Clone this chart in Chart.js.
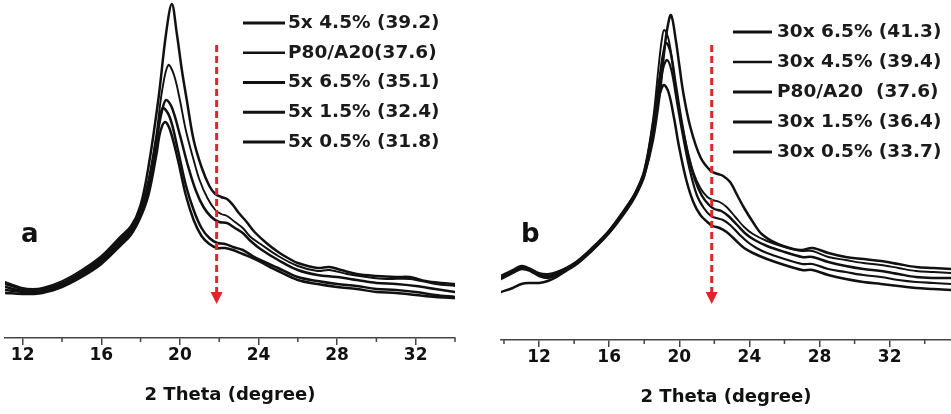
<!DOCTYPE html>
<html><head><meta charset="utf-8">
<script src="https://cdn.jsdelivr.net/npm/chart.js@4.4.1/dist/chart.umd.min.js"></script>
<style>
html,body{margin:0;padding:0;background:#fff;}
#wrap{position:relative;width:951px;height:414px;overflow:hidden;background:#fff;}
canvas{position:absolute;top:0;}
#ca{left:0}
#cb{left:476px}
</style></head><body>
<div id="wrap"><canvas id="ca" width="475" height="414"></canvas><canvas id="cb" width="475" height="414"></canvas></div>
<script>
// ---------- shared axis ticks ----------
const X_TICKS_MAJOR = [12, 16, 20, 24, 28, 32];
const X_TICKS_MINOR_A = [14, 18, 22, 26, 30, 34];
const X_TICKS_MINOR_B = [10, 14, 18, 22, 26, 30, 34];
const X_TITLE = '2 Theta (degree)';

// ---------- panel a (intensity, a.u.) ----------
const A_LABELS = ['5x 4.5% (39.2)', 'P80/A20(37.6)', '5x 6.5% (35.1)', '5x 1.5% (32.4)', '5x 0.5% (31.8)'];
const A1_DEG = [11.1,12.0,12.5,13.0,14.0,15.0,16.0,17.0,17.5,18.0,18.4,18.9,19.3,19.59,19.84,20.1,20.35,20.7,21.1,21.5,21.8,22.1,22.4,22.7,23.0,23.4,23.8,24.4,25.0,25.5,26.0,27.0,27.6,28.2,29.0,30.0,31.0,31.7,32.5,33.3,34.0];
const A1_INT = [54,49,48,49,55,66,80,100,110,133,171,238,305,334,305,268,238,198,171,152,144,141,139,133,125,116,106,95,86,80,75,70,71,68,64,62,61,61,57,55,54];
const A2_DEG = [11.1,12.0,12.5,13,14,15,16,17,17.5,18.0,18.4,18.8,19.1,19.41,19.7,20.0,20.3,20.7,21.0,21.4,21.8,22.1,22.4,22.8,23.2,23.6,24.1,25.0,26,27,27.6,28.5,29.5,30.5,31.7,33,34];
const A2_INT = [56,50,49,50,57,68,82,102,112,131,158,203,248,273,263,238,208,178,158,140,128,124,122,116,110,101,94,82,72,67,68,64,61,59,59,54,52];
const A3_DEG = [11.1,12,12.5,13,14,15,16,17,17.5,18,18.4,18.8,19.1,19.3,19.6,20.0,20.4,20.8,21.2,21.6,22.0,22.4,22.8,23.2,23.6,24.1,25,26,27,28,29,30,31,32,33,34];
const A3_INT = [51,47,46,47,54,64,78,98,108,127,153,198,228,238,230,203,173,148,131,121,116,115,110,105,97,89,78,68,63,61,58,55,54,52,49,46];
const A4_DEG = [11.1,12,12.5,13,14,15,16,17,17.5,18,18.4,18.8,19.0,19.16,19.5,19.9,20.3,20.7,21.1,21.5,21.9,22.3,22.7,23.2,23.7,24.2,25,26,27,28,29,30,31,32,33,34];
const A4_INT = [48,46,45,46,52,62,76,95,106,124,148,193,223,230,220,188,153,128,110,100,95,94,91,88,82,77,70,61,57,54,52,49,48,46,43,41];
const A5_DEG = [11.1,12,12.5,13,14,15,16,17,17.5,18,18.4,18.8,19.0,19.24,19.5,19.9,20.3,20.7,21.1,21.5,21.9,22.3,22.7,23.2,23.7,24.2,25,26,27,28,29,30,31,32,33,34];
const A5_INT = [45,44,44,45,51,61,74,93,103,121,143,183,206,216,208,178,143,118,102,94,90,90,88,84,80,75,67,58,54,51,49,46,45,43,41,40];

// ---------- panel b (intensity, a.u.) ----------
const B_LABELS = ['30x 6.5% (41.3)', '30x 4.5% (39.4)', 'P80/A20  (37.6)', '30x 1.5% (36.4)', '30x 0.5% (33.7)'];
const B1_DEG = [9.83,10.5,11.0,11.5,12.0,12.5,13.0,14,15,16,17,17.5,18,18.5,18.9,19.1,19.3,19.53,19.8,20.0,20.23,20.63,21.2,21.8,22.2,22.5,22.9,23.3,23.7,24.2,24.7,25.5,26.5,27.0,27.6,28.5,29.5,30.5,31.5,32.5,33.5,34.5,35.5];
const B1_INT = [48,52,56,57,57,59,63,75,90,108,131,145,165,200,248,282,310,325,300,275,247,213,183,169,166,164,158,145,132,118,106,97,91,90,92,87,83,81,79,76,73,72,71];
const B2_DEG = [9.83,10.5,11.0,11.5,12.0,12.5,13,14,15,16,17,17.5,18,18.5,18.8,19.0,19.14,19.4,19.7,20.0,20.4,20.8,21.2,21.6,21.9,22.3,22.7,23.2,23.7,24.2,25,26,27,27.6,28.5,29.5,30.5,31.5,32.5,33.5,34.5,35.5];
const B2_INT = [63,69,73,71,67,66,68,77,92,110,134,148,170,220,270,300,310,300,265,230,195,168,152,143,140,138,133,123,113,106,99,93,89,89,83,80,77,75,72,69,68,67];
const B3_DEG = [9.83,10.5,11,11.5,12,12.5,13,14,15,16,17,17.5,18,18.5,18.9,19.1,19.26,19.5,19.8,20.1,20.5,20.9,21.3,21.7,22.0,22.4,22.8,23.3,23.8,24.3,25,26,27,27.6,28.5,29.5,30.5,31.5,32.5,33.5,34.5,35.5];
const B3_INT = [64,70,74,71,66,64,67,76,91,109,133,147,168,215,265,288,297,288,255,222,185,160,144,135,131,129,124,115,106,100,94,88,83,83,78,74,71,69,66,63,62,62];
const B4_DEG = [9.83,10.5,11,11.5,12,12.5,13,14,15,16,17,17.5,18,18.5,18.9,19.1,19.3,19.55,19.85,20.2,20.6,21.0,21.4,21.8,22.1,22.5,22.9,23.4,23.9,24.4,25,26,27,27.6,28.5,29.5,30.5,31.5,32.5,33.5,34.5,35.5];
const B4_INT = [62,68,72,70,65,63,66,75,90,108,132,146,166,210,255,273,280,270,240,205,170,145,132,124,122,120,115,106,98,92,87,81,76,76,71,68,65,63,60,58,57,56];
const B5_DEG = [9.83,10.5,11,11.5,12,12.5,13,14,15,16,17,17.5,18,18.5,18.8,19.0,19.14,19.4,19.7,20.0,20.4,20.8,21.2,21.6,21.9,22.3,22.7,23.2,23.7,24.2,25,26,27,27.6,28.5,29.5,30.5,31.5,32.5,33.5,34.5,35.5];
const B5_INT = [61,67,71,69,64,62,65,74,89,107,130,144,164,205,240,252,255,247,222,192,160,138,125,118,114,112,108,100,92,87,81,75,70,70,65,61,58,56,54,52,51,50];

// red marker: 2θ position and intensity span of the arrow
const ARROW_A = {x: 21.87, from: 293, to: 34};
const ARROW_B = {x: 21.85, from: 295, to: 36};

// ---------- helpers ----------
const pts = (xs, ys) => xs.map((x, i) => ({x: x, y: ys[i]}));
const FONT = 'DejaVu Sans';
const INK = '#111111';

function mkSet(label, xs, ys, w) {
  return {label: label, data: pts(xs, ys), borderColor: INK, borderWidth: w,
    pointRadius: 0, fill: false, tension: 0.35, borderJoinStyle: 'round', borderCapStyle: 'round'};
}

const extras = {
  id: 'extras',
  afterDatasetsDraw(chart, args, o) {
    const ctx = chart.ctx, xs = chart.scales.x, ys = chart.scales.y;
    const yb = chart.chartArea.bottom;
    ctx.save();
    // minor ticks
    ctx.strokeStyle = '#444'; ctx.lineWidth = 1.5;
    o.minor.forEach(v => {
      const px = xs.getPixelForValue(v);
      ctx.beginPath(); ctx.moveTo(px, yb); ctx.lineTo(px, yb + 4); ctx.stroke();
    });
    // red dashed arrow
    const ax = xs.getPixelForValue(o.arrow.x);
    const ay1 = ys.getPixelForValue(o.arrow.from), ay2 = ys.getPixelForValue(o.arrow.to);
    ctx.strokeStyle = '#e3242b'; ctx.fillStyle = '#e3242b'; ctx.lineWidth = 3;
    ctx.setLineDash([7, 4]);
    ctx.beginPath(); ctx.moveTo(ax, ay1); ctx.lineTo(ax, ay2 - 10); ctx.stroke();
    ctx.setLineDash([]);
    ctx.beginPath(); ctx.moveTo(ax - 6, ay2 - 12); ctx.lineTo(ax + 6, ay2 - 12); ctx.lineTo(ax, ay2); ctx.closePath(); ctx.fill();
    // legend
    ctx.font = 'bold 18.5px "' + FONT + '"'; ctx.textBaseline = 'middle';
    chart.data.datasets.forEach((ds, i) => {
      const y = o.legend.y + i * o.legend.rowH;
      ctx.strokeStyle = INK; ctx.lineWidth = ds.borderWidth + 0.6; ctx.lineCap = 'butt';
      ctx.beginPath(); ctx.moveTo(o.legend.x, y); ctx.lineTo(o.legend.x + o.legend.len, y); ctx.stroke();
      ctx.fillStyle = '#1a1a1a';
      ctx.fillText(ds.label, o.legend.x + o.legend.len + o.legend.gap, y);
    });
    // panel letter
    ctx.font = 'bold 26px "' + FONT + '"'; ctx.textBaseline = 'alphabetic'; ctx.fillStyle = INK;
    ctx.fillText(o.letter.text, o.letter.x, o.letter.y);
    ctx.restore();
  }
};

function mkChart(id, sets, xmin, xmax, ymax, minor, pad, extra) {
  return new Chart(document.getElementById(id), {
    type: 'line',
    data: {datasets: sets},
    plugins: [extras],
    options: {
      responsive: false, animation: false, devicePixelRatio: 1,
      layout: {padding: pad},
      plugins: {legend: {display: false}, tooltip: {enabled: false}, extras: Object.assign({minor: minor}, extra)},
      scales: {
        x: {type: 'linear', min: xmin, max: xmax,
          afterBuildTicks: s => { s.ticks = X_TICKS_MAJOR.map(v => ({value: v})); },
          grid: {drawOnChartArea: false, drawTicks: true, tickLength: 7, color: '#444', lineWidth: 1.5},
          border: {display: true, color: '#444', width: 1.5},
          ticks: {font: {family: FONT, size: 17, weight: 'bold'}, color: INK, padding: 0, maxRotation: 0, autoSkip: false},
          title: {display: true, text: X_TITLE, font: {family: FONT, size: 18, weight: 'bold'}, color: INK, padding: {top: 19, bottom: 0}}
        },
        y: {display: false, min: 0, max: ymax}
      }
    }
  });
}

mkChart('ca', [
  mkSet(A_LABELS[0], A1_DEG, A1_INT, 2.5),
  mkSet(A_LABELS[1], A2_DEG, A2_INT, 1.9),
  mkSet(A_LABELS[2], A3_DEG, A3_INT, 2.5),
  mkSet(A_LABELS[3], A4_DEG, A4_INT, 2.5),
  mkSet(A_LABELS[4], A5_DEG, A5_INT, 2.5)
], 11.1, 34.0, 338, X_TICKS_MINOR_A, {left: 5, right: 20, top: 0, bottom: 8},
  {arrow: ARROW_A, legend: {x: 243, y: 23, rowH: 29.75, len: 42, gap: 3}, letter: {text: 'a', x: 21, y: 242}});

mkChart('cb', [
  mkSet(B_LABELS[0], B1_DEG, B1_INT, 2.5),
  mkSet(B_LABELS[1], B2_DEG, B2_INT, 1.9),
  mkSet(B_LABELS[2], B3_DEG, B3_INT, 2.5),
  mkSet(B_LABELS[3], B4_DEG, B4_INT, 2.2),
  mkSet(B_LABELS[4], B5_DEG, B5_INT, 2.5)
], 9.83, 35.5, 340, X_TICKS_MINOR_B, {left: 25, right: 0, top: 0, bottom: 6},
  {arrow: ARROW_B, legend: {x: 257, y: 32, rowH: 30, len: 39, gap: 5}, letter: {text: 'b', x: 45, y: 242}});
</script>
</body></html>
